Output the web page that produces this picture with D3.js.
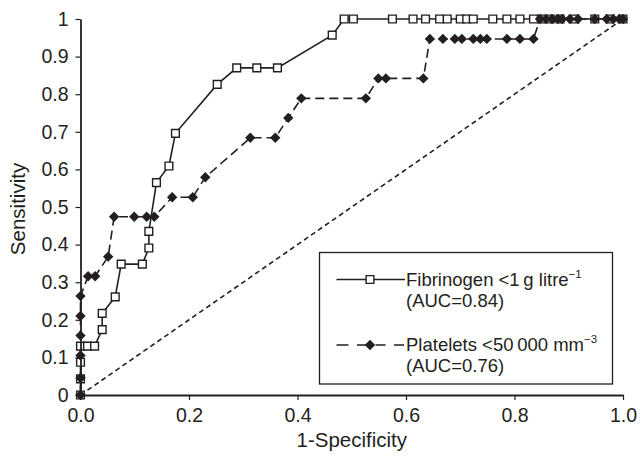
<!DOCTYPE html>
<html>
<head>
<meta charset="utf-8">
<script src="https://cdn.jsdelivr.net/npm/d3@7"></script>
<style>
  body { margin: 0; background: #fff; }
  svg { display: block; font-family: "Liberation Sans", Arial, sans-serif; }
</style>
</head>
<body>
<svg width="640" height="459"></svg>
<script>
// ROC points
var fibX = [0, 0, 0, 0, 0.013, 0.026, 0.040, 0.040, 0.064, 0.075, 0.114, 0.126, 0.126, 0.140, 0.163, 0.175,
  0.252, 0.288, 0.325, 0.363, 0.464, 0.486, 0.503, 0.575, 0.613, 0.636, 0.662, 0.676, 0.700, 0.712, 0.724,
  0.760, 0.786, 0.810, 0.835, 0.850, 0.866, 0.884, 0.911, 0.948, 0.976, 1.0];
var fibY = [0, 0.043, 0.087, 0.130, 0.130, 0.130, 0.174, 0.217, 0.261, 0.348, 0.348, 0.391, 0.435, 0.565, 0.609, 0.696,
  0.826, 0.870, 0.870, 0.870, 0.957, 1, 1, 1, 1, 1, 1, 1, 1, 1, 1,
  1, 1, 1, 1, 1, 1, 1, 1, 1, 1, 1];

var platX = [0, 0, 0, 0, 0, 0, 0.014, 0.027, 0.051, 0.062, 0.099, 0.122, 0.136, 0.169, 0.207, 0.230,
  0.313, 0.359, 0.383, 0.407, 0.526, 0.549, 0.563, 0.632,
  0.644, 0.668, 0.690, 0.703, 0.724, 0.737, 0.749, 0.786, 0.810, 0.835,
  0.847, 0.858, 0.869, 0.880, 0.888, 0.902, 0.917, 0.948, 0.970, 0.982, 0.993, 1.0];
var platY = [0, 0.045, 0.105, 0.158, 0.210, 0.263, 0.316, 0.316, 0.368, 0.474, 0.474, 0.474, 0.474, 0.526, 0.526, 0.579,
  0.684, 0.684, 0.737, 0.789, 0.789, 0.842, 0.842, 0.842,
  0.947, 0.947, 0.947, 0.947, 0.947, 0.947, 0.947, 0.947, 0.947, 0.947,
  1, 1, 1, 1, 1, 1, 1, 1, 1, 1, 1, 1];

var xTicks = [0, 0.2, 0.4, 0.6, 0.8, 1.0];
var xTickLabels = ["0.0", "0.2", "0.4", "0.6", "0.8", "1.0"];
var yTicks = [0, 0.1, 0.2, 0.3, 0.4, 0.5, 0.6, 0.7, 0.8, 0.9, 1];
var yTickLabels = ["0", "0.1", "0.2", "0.3", "0.4", "0.5", "0.6", "0.7", "0.8", "0.9", "1"];

function main() {
  var ink = "#231f20";
  var svg = d3.select("svg");

  var x = d3.scaleLinear().domain([0, 1]).range([80.5, 623]);
  var y = d3.scaleLinear().domain([0, 1]).range([395, 19]);

  var fib = fibX.map(function(v, i) { return [v, fibY[i]]; });
  var plat = platX.map(function(v, i) { return [v, platY[i]]; });

  var line = d3.line()
      .x(function(d) { return x(d[0]); })
      .y(function(d) { return y(d[1]); });

  // chance diagonal
  svg.append("path")
      .datum([[0, 0], [1, 1]])
      .attr("d", line)
      .attr("fill", "none")
      .attr("stroke", ink)
      .attr("stroke-width", 1.6)
      .attr("stroke-dasharray", "5,3.5");

  // platelets: dashed line, filled diamonds
  svg.append("path")
      .datum(plat)
      .attr("d", line)
      .attr("fill", "none")
      .attr("stroke", ink)
      .attr("stroke-width", 1.6)
      .attr("stroke-dasharray", "9,5");

  // fibrinogen: solid line, open squares
  svg.append("path")
      .datum(fib)
      .attr("d", line)
      .attr("fill", "none")
      .attr("stroke", ink)
      .attr("stroke-width", 1.6);

  var diamond = d3.symbol().type(d3.symbolSquare).size(54);
  var square = d3.symbol().type(d3.symbolSquare).size(60);

  svg.append("g")
    .selectAll("path")
    .data(fib)
    .enter().append("path")
      .attr("d", square)
      .attr("transform", function(d) { return "translate(" + x(d[0]) + "," + y(d[1]) + ")"; })
      .attr("fill", "#fff")
      .attr("stroke", ink)
      .attr("stroke-width", 1.4);

  svg.append("g")
    .selectAll("path")
    .data(plat)
    .enter().append("path")
      .attr("d", diamond)
      .attr("transform", function(d) { return "translate(" + x(d[0]) + "," + y(d[1]) + ") rotate(45)"; })
      .attr("fill", ink);

  // axes
  var xAxis = svg.append("g")
      .attr("transform", "translate(0,395)")
      .call(d3.axisBottom(x).tickValues(xTicks).tickSize(5).tickSizeOuter(0).tickPadding(8)
        .tickFormat(function(d, i) { return xTickLabels[i]; }));

  var yAxis = svg.append("g")
      .attr("transform", "translate(80.5,0)")
      .call(d3.axisLeft(y).tickValues(yTicks).tickSize(5).tickSizeOuter(0).tickPadding(7)
        .tickFormat(function(d, i) { return yTickLabels[i]; }));

  [xAxis, yAxis].forEach(function(a) {
    a.select(".domain").attr("stroke", ink).attr("stroke-width", 1.8);
    a.selectAll(".tick line").attr("stroke", ink).attr("stroke-width", 1.2);
    a.selectAll(".tick text")
      .attr("fill", ink)
      .attr("font-size", 19.5)
      .attr("font-family", "Liberation Sans, Arial, sans-serif");
  });

  svg.append("text")
      .attr("x", 351.75)
      .attr("y", 447)
      .attr("text-anchor", "middle")
      .attr("font-size", 20.5)
      .attr("fill", ink)
      .text("1-Specificity");

  svg.append("text")
      .attr("transform", "translate(25,209) rotate(-90)")
      .attr("text-anchor", "middle")
      .attr("font-size", 20.5)
      .attr("fill", ink)
      .text("Sensitivity");

  // legend
  var legend = svg.append("g");
  legend.append("rect")
      .attr("x", 319.5)
      .attr("y", 252.5)
      .attr("width", 293)
      .attr("height", 131.5)
      .attr("fill", "#fff")
      .attr("stroke", ink)
      .attr("stroke-width", 1.3);

  legend.append("line")
      .attr("x1", 336.5).attr("x2", 405)
      .attr("y1", 279.5).attr("y2", 279.5)
      .attr("stroke", ink)
      .attr("stroke-width", 1.6);
  legend.append("path")
      .attr("d", square)
      .attr("transform", "translate(370,279.5)")
      .attr("fill", "#fff")
      .attr("stroke", ink)
      .attr("stroke-width", 1.4);

  legend.append("line")
      .attr("x1", 336.5).attr("x2", 405)
      .attr("y1", 345).attr("y2", 345)
      .attr("stroke", ink)
      .attr("stroke-width", 1.6)
      .attr("stroke-dasharray", "12,8.5,10,8.5,10,8.5,10");
  legend.append("path")
      .attr("d", diamond)
      .attr("transform", "translate(370,345) rotate(45)")
      .attr("fill", ink);

  var t1 = legend.append("text")
      .attr("x", 406).attr("y", 286)
      .attr("font-size", 18.5).attr("fill", ink);
  t1.append("tspan").text("Fibrinogen <1\u2009g litre");
  t1.append("tspan").attr("font-size", 11.5).attr("dy", -8).text("\u22121");
  legend.append("text")
      .attr("x", 406).attr("y", 307)
      .attr("font-size", 18.5).attr("fill", ink)
      .text("(AUC=0.84)");

  var t2 = legend.append("text")
      .attr("x", 406).attr("y", 351)
      .attr("font-size", 18.5).attr("fill", ink);
  t2.append("tspan").text("Platelets <50\u2009000 mm");
  t2.append("tspan").attr("font-size", 11.5).attr("dy", -8).text("\u22123");
  legend.append("text")
      .attr("x", 406).attr("y", 372)
      .attr("font-size", 18.5).attr("fill", ink)
      .text("(AUC=0.76)");
}
main()
</script>
</body>
</html>
